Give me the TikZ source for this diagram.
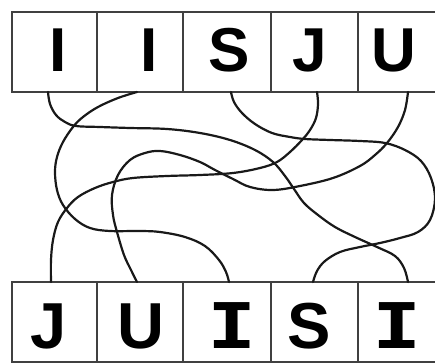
\documentclass[tikz,border=0pt]{standalone}
\usepackage{fontspec}
\newfontfamily\letterfont{Liberation Sans}[BoldFont={Liberation Sans Bold}]
\newfontfamily\slabfont{DejaVu Sans Mono}[BoldFont={DejaVu Sans Mono Bold}]
\begin{document}
\begin{tikzpicture}[x=1pt,y=-1pt,
  box/.style={draw=black!75, line width=1.3pt, minimum height=80pt, inner sep=0pt, outer sep=0pt},
  letter/.style={inner sep=0pt, font=\letterfont\bfseries\fontsize{62}{62}\selectfont},
  bigletter/.style={inner sep=0pt, font=\letterfont\bfseries\fontsize{65}{65}\selectfont},
  slab/.style={inner sep=0pt, font=\slabfont\bfseries\fontsize{63}{63}\selectfont},
  wire/.style={line width=2.2pt, black!90, line cap=round}]
\useasboundingbox (0,0) rectangle (435,363);
\clip (0,0) rectangle (435,363);
% top boxes
\node[box, minimum width=85pt] (t1) at (54.5,52) {};
\node[box, minimum width=86pt] (t2) at (140,52) {};
\node[box, minimum width=88pt] (t3) at (227,52) {};
\node[box, minimum width=87pt] (t4) at (314.5,52) {};
\node[box, minimum width=86pt] (t5) at (401,52) {};
% bottom boxes
\node[box, minimum width=85pt] (b1) at (54.5,322) {};
\node[box, minimum width=86pt] (b2) at (140,322) {};
\node[box, minimum width=88pt] (b3) at (227,322) {};
\node[box, minimum width=87pt] (b4) at (314.5,322) {};
\node[box, minimum width=86pt] (b5) at (401,322) {};
% top letters
\node[letter] (lt1) at (58,50) {I};
\node[letter] (lt2) at (149,50) {I};
\node[letter] (lt3) at (229,50) {S};
\node[letter] (lt4) at (310,50) {J};
\node[letter] (lt5) at (394,50) {U};
% bottom letters
\node[bigletter] (lb1) at (49,326) {J};
\node[bigletter] (lb2) at (141,326) {U};
\node[slab] (lb3) at (232,326) {\scalebox{1.3}[1]{I}};
\node[bigletter] (lb4) at (309,326) {S};
\node[slab] (lb5) at (397,326) {\scalebox{1.3}[1]{I}};
% end points
\coordinate (as) at ([xshift=-6.5pt]t1.south);
\coordinate (ae) at ([xshift=7pt]b5.north);
\coordinate (bs) at ([xshift=-3pt]t2.south);
\coordinate (be) at ([xshift=2pt]b3.north);
\coordinate (cs) at ([xshift=4pt]t3.south);
\coordinate (ce) at ([xshift=-1.5pt]b4.north);
\coordinate (ds) at ([xshift=2.5pt]t4.south);
\coordinate (de) at ([xshift=-3.5pt]b1.north);
\coordinate (es) at ([xshift=7pt]t5.south);
\coordinate (ee) at ([xshift=-3pt]b2.north);
% curve A: I -> I
\draw[wire] plot[smooth, tension=0.6] coordinates {(as) (50,104) (56,115) (65,122) (76,126) (100,127) (130,128) (167,129) (200,133) (230,140) (255,150) (273,162) (285,176) (294,189) (304,203) (318,215) (335,227) (355,237) (377,247) (395,256) (404,268) (ae)};
% curve B: I -> I
\draw[wire] plot[smooth, tension=0.6] coordinates {(bs) (118,98) (98,107) (83,117) (73,127) (63,142) (57,157) (55,172) (57,190) (63,205) (75,219) (90,228) (110,231) (140,231) (160,232) (185,237) (205,246) (219,260) (226,272) (be)};
% curve C: S -> S
\draw[wire] plot[smooth, tension=0.6] coordinates {(cs) (234,102) (242,113) (255,124) (272,133) (290,137) (305,139) (330,140) (360,141) (385,143) (405,150) (421,161) (431,178) (435,199) (430,220) (418,232) (400,238) (380,243) (360,247) (340,252) (325,261) (317,271) (ce)};
% curve D: J -> J
\draw[wire] plot[smooth, tension=0.6] coordinates {(ds) (318,104) (316,118) (310,130) (302,140) (290,152) (277,162) (260,168) (233,173) (200,175) (167,176) (133,178) (113,182) (95,188) (78,197) (67,208) (58,222) (53,240) (51,260) (de)};
% curve E: U -> U
\draw[wire] plot[smooth, tension=0.6] coordinates {(es) (405,110) (398,127) (387,143) (375,155) (360,166) (333,178) (300,186) (273,190) (250,187) (233,179) (215,170) (200,162) (180,155) (160,151) (145,153) (130,160) (118,175) (112,195) (113,215) (117,232) (124,255) (131,270) (ee)};
\end{tikzpicture}
\end{document}
